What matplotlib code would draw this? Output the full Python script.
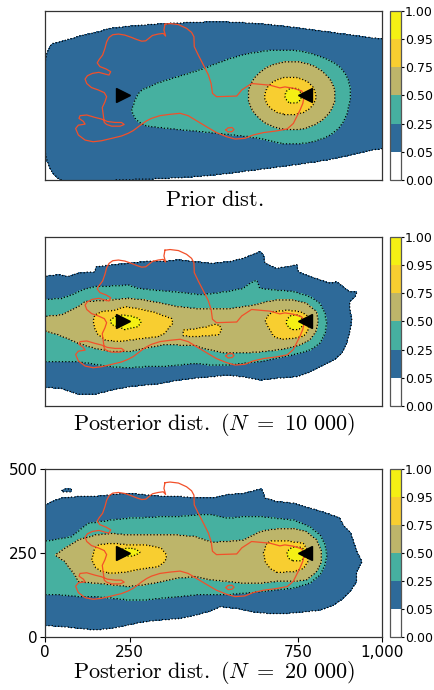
import numpy as np
import matplotlib
matplotlib.use('Agg')
import matplotlib.pyplot as plt
from matplotlib.path import Path

plt.rcParams['mathtext.fontset'] = 'cm'
plt.rcParams['font.family'] = ['DejaVu Sans']

# ---------------- data ----------------
levels = [0.0, 0.05, 0.25, 0.5, 0.75, 0.95, 1.0]
level_colors = ['#ffffff', '#2e6a99', '#46b0a0', '#bdb56a', '#f8ce30', '#f5f014']
level_fill = {0.05: 0.15, 0.25: 0.375, 0.5: 0.625, 0.75: 0.85, 0.95: 0.975}

x_ticks = [0, 250, 750, 1000]
x_ticklabels = ['0', '250', '750', '1,000']
y_ticks = [0, 250, 500]
y_ticklabels = ['0', '250', '500']

titles = [r'$\mathrm{Prior\ dist.}$',
          r'$\mathrm{Posterior\ dist.}\ (N\ =\ 10\ 000)$',
          r'$\mathrm{Posterior\ dist.}\ (N\ =\ 20\ 000)$']

source_xy = (230, 250)
target_xy = (770, 250)

route = [(355, 460), (370, 462), (395, 459), (419, 448), (434, 436), (441, 423), (442, 394),
         (454, 369), (469, 340), (484, 310), (492, 285), (496, 256), (508, 246), (568, 248),
         (583, 266), (612, 285), (667, 280), (696, 272), (711, 275), (736, 271), (761, 263),
         (768, 246), (764, 226), (756, 207), (746, 187), (736, 167), (718, 151), (686, 145),
         (647, 140), (617, 133), (592, 123), (563, 121), (538, 128), (508, 140), (479, 157),
         (449, 175), (424, 190), (400, 197), (370, 194), (340, 190), (315, 182), (301, 175),
         (286, 165), (273, 155), (261, 146), (246, 138), (226, 130), (197, 123), (167, 116),
         (142, 113), (118, 118), (98, 133), (90, 152), (98, 162), (118, 165), (113, 173),
         (100, 182), (103, 190), (123, 192), (147, 185), (167, 180), (184, 173), (207, 170),
         (226, 170), (234, 164), (222, 159), (197, 159), (182, 164), (175, 170), (172, 192),
         (169, 214), (177, 231), (182, 246), (175, 258), (157, 266), (137, 273), (123, 285),
         (118, 298), (125, 308), (140, 315), (159, 318), (177, 313), (189, 310), (194, 320),
         (180, 328), (162, 335), (154, 346), (160, 356), (170, 369), (177, 389), (182, 408),
         (189, 421), (200, 429), (217, 431), (236, 428), (256, 421), (271, 415), (286, 410),
         (298, 411), (308, 419), (318, 427), (335, 431), (350, 433), (357, 425), (352, 443),
         (355, 460)]
lake = [(536, 148), (542, 154), (554, 155), (560, 149), (554, 143), (542, 142), (536, 148)]

# prior distribution contour regions
prior_blue = [(-10, 394), (63, 413), (113, 428), (162, 438), (192, 448), (261, 455), (360, 462),
              (489, 467), (558, 466), (657, 460), (756, 448), (855, 435), (954, 421), (1000, 416),
              (1080, 410), (1080, 95), (1000, 97), (855, 61), (657, 34), (459, 10), (300, 3),
              (150, -2), (-10, -5)]
prior_teal = [(256, 205), (266, 236), (281, 265), (311, 276), (330, 285), (360, 295), (410, 310),
              (459, 325), (508, 344), (558, 362), (607, 374), (657, 382), (706, 384), (756, 382),
              (805, 369), (855, 349), (884, 325), (904, 285), (906, 246), (899, 207), (884, 167),
              (855, 138), (815, 118), (756, 106), (706, 106), (657, 118), (607, 128), (558, 133),
              (508, 138), (459, 143), (410, 148), (360, 153), (320, 157), (291, 162), (271, 177),
              (261, 192)]
prior_ellipses = [(0.5, 731, 249, 129, 101), (0.75, 727, 248, 76, 56), (0.95, 736, 249, 25, 23)]

# posterior N = 10 000
post1_blue = [(-10, 382), (39, 387), (68, 382), (98, 392), (147, 396), (152, 411), (197, 416),
              (246, 421), (296, 426), (345, 426), (395, 431), (444, 426), (494, 421), (548, 426),
              (588, 436), (627, 451), (637, 456), (647, 446), (652, 421), (686, 406), (746, 416),
              (751, 396), (785, 382), (815, 372), (845, 362), (864, 367), (884, 352), (904, 337),
              (924, 337), (919, 323), (904, 308), (904, 283), (909, 254), (904, 224), (894, 185),
              (879, 155), (855, 136), (825, 121), (785, 101), (746, 87), (686, 82), (637, 77),
              (588, 87), (538, 91), (494, 87), (444, 82), (395, 77), (345, 67), (296, 62),
              (246, 57), (197, 47), (147, 35), (98, 35), (48, 52), (-10, 57)]
post1_teal = [(-10, 313), (48, 318), (78, 328), (108, 342), (147, 352), (197, 354), (246, 357),
              (276, 347), (325, 342), (375, 338), (424, 333), (464, 328), (503, 333), (538, 338),
              (588, 347), (607, 362), (627, 372), (637, 347), (686, 342), (736, 338), (785, 323),
              (815, 303), (830, 274), (835, 244), (830, 215), (815, 185), (785, 165), (736, 151),
              (686, 141), (637, 131), (588, 126), (538, 121), (489, 121), (444, 126), (395, 121),
              (345, 116), (296, 116), (246, 113), (197, 116), (147, 123), (98, 131), (-10, 131)]
post1_olive = [(-10, 264), (48, 269), (98, 293), (118, 308), (197, 313), (246, 318), (296, 313),
               (345, 303), (395, 293), (444, 288), (494, 286), (548, 288), (588, 293), (617, 298),
               (657, 308), (686, 313), (736, 313), (775, 303), (805, 278), (810, 254), (805, 224),
               (785, 195), (756, 180), (716, 170), (686, 165), (637, 160), (588, 156), (538, 156),
               (489, 165), (444, 178), (395, 180), (345, 180), (296, 170), (246, 160), (197, 160),
               (147, 170), (98, 185), (39, 210), (-10, 224)]
post1_gold_left = [(147, 269), (167, 279), (207, 283), (236, 293), (276, 288), (316, 279),
                   (345, 269), (375, 259), (380, 244), (365, 229), (355, 215), (335, 205),
                   (296, 200), (256, 195), (217, 190), (177, 195), (157, 210), (147, 229), (142, 249)]
post1_gold_mid = [(408, 224), (439, 227), (479, 234), (499, 241), (518, 239), (523, 224),
                  (513, 210), (479, 207), (439, 205), (410, 207)]
post1_gold_right = [(662, 269), (677, 279), (716, 283), (756, 279), (775, 269), (785, 249),
                    (780, 224), (766, 205), (736, 200), (706, 197), (677, 205), (667, 224),
                    (657, 239), (652, 254)]
post1_yellow_left = [(207, 264), (227, 269), (256, 266), (276, 259), (286, 249), (276, 234),
                     (256, 229), (236, 224), (217, 234), (197, 239), (192, 254)]
post1_yellow_right = (741, 247, 26, 22)

# posterior N = 20 000
post2_blue = [(-10, 384), (19, 404), (48, 414), (98, 419), (147, 419), (197, 424), (246, 428),
              (296, 424), (345, 419), (395, 419), (444, 414), (494, 414), (538, 424), (588, 428),
              (627, 438), (642, 441), (652, 414), (686, 404), (736, 399), (785, 384), (835, 369),
              (874, 354), (884, 334), (904, 314), (914, 285), (924, 255), (939, 225), (924, 195),
              (924, 166), (904, 136), (884, 116), (855, 96), (815, 81), (766, 76), (716, 71),
              (667, 71), (617, 76), (568, 86), (518, 91), (489, 78), (444, 66), (395, 56),
              (345, 52), (296, 47), (246, 37), (197, 27), (147, 22), (98, 27), (48, 32), (-10, 37)]
post2_blue_islet = [(48, 436), (60, 441), (78, 440), (76, 433), (55, 432)]
post2_teal = [(-10, 285), (29, 290), (78, 300), (108, 324), (128, 339), (197, 349), (246, 354),
              (296, 356), (345, 359), (395, 359), (444, 364), (494, 364), (538, 354), (588, 359),
              (637, 359), (686, 354), (736, 349), (785, 329), (815, 304), (830, 275), (835, 245),
              (830, 215), (815, 186), (785, 161), (736, 146), (686, 141), (637, 136), (588, 131),
              (538, 126), (489, 126), (444, 126), (395, 121), (345, 116), (296, 111), (246, 111),
              (197, 116), (147, 121), (98, 121), (48, 126), (-10, 126)]
post2_olive = [(29, 245), (58, 265), (98, 290), (147, 304), (197, 309), (246, 304), (296, 304),
               (345, 304), (395, 304), (444, 300), (494, 283), (538, 285), (588, 290), (637, 314),
               (657, 319), (686, 322), (736, 324), (775, 314), (805, 290), (820, 255), (820, 225),
               (805, 195), (775, 171), (736, 166), (686, 166), (637, 161), (588, 161), (538, 166),
               (489, 171), (444, 180), (395, 176), (345, 166), (296, 156), (246, 151), (197, 156),
               (147, 161), (98, 166), (88, 185), (58, 225)]
post2_gold_left = [(147, 265), (157, 275), (197, 280), (246, 275), (296, 275), (345, 265),
                   (360, 245), (355, 225), (335, 210), (296, 205), (246, 195), (197, 190),
                   (167, 195), (147, 210), (137, 230), (142, 250)]
post2_gold_right = [(657, 280), (672, 287), (716, 287), (766, 280), (780, 255), (780, 225),
                    (766, 205), (736, 195), (686, 193), (667, 205), (652, 225), (647, 250)]
post2_yellow_left = [(225, 262), (250, 266), (270, 262), (283, 253), (270, 245), (250, 240),
                     (225, 243)]
post2_yellow_right = (745, 248, 28, 22)


# ---------------- helpers ----------------
def chaikin(poly, n):
    p = np.asarray(poly, float)
    for _ in range(n):
        q = np.roll(p, -1, axis=0)
        a = 0.75 * p + 0.25 * q
        b = 0.25 * p + 0.75 * q
        p = np.empty((2 * len(p), 2))
        p[0::2] = a
        p[1::2] = b
    return p


def ellipse(cx, cy, rx, ry):
    t = np.linspace(0, 2 * np.pi, 120)
    return np.column_stack([cx + rx * np.cos(t), cy + ry * np.sin(t)])


gx = np.linspace(0, 1000, 501)
gy = np.linspace(0, 500, 251)
GX, GY = np.meshgrid(gx, gy)
PTS = np.column_stack([GX.ravel(), GY.ravel()])


def build_field(regions):
    z = np.zeros(GX.size)
    for lev, poly in regions:
        inside = Path(np.asarray(poly, float)).contains_points(PTS)
        z = np.where(inside, np.maximum(z, level_fill[lev]), z)
    return z.reshape(GX.shape)


prior_regions = [(0.05, chaikin(prior_blue, 3)), (0.25, chaikin(prior_teal, 3))] + \
                [(lev, ellipse(cx, cy, rx, ry)) for lev, cx, cy, rx, ry in prior_ellipses]
post1_regions = [(0.05, post1_blue), (0.25, post1_teal), (0.5, post1_olive),
                 (0.75, post1_gold_left), (0.75, post1_gold_mid), (0.75, post1_gold_right),
                 (0.95, post1_yellow_left), (0.95, ellipse(*post1_yellow_right))]
post2_regions = [(0.05, post2_blue), (0.05, post2_blue_islet), (0.25, post2_teal),
                 (0.5, post2_olive), (0.75, post2_gold_left), (0.75, post2_gold_right),
                 (0.95, post2_yellow_left), (0.95, ellipse(*post2_yellow_right))]

fields = [build_field(prior_regions), build_field(post1_regions), build_field(post2_regions)]

# ---------------- figure ----------------
fig = plt.figure(figsize=(4.34, 6.9), dpi=100)
ax_rects = [[0.1044, 0.7391, 0.7765, 0.2454],
            [0.1044, 0.4116, 0.7765, 0.2454],
            [0.1044, 0.0764, 0.7765, 0.2435]]
label_offsets = [-0.118, -0.112, -0.212]

rx_, ry_ = zip(*route)
lx_, ly_ = zip(*lake)

for i, (rect, Z) in enumerate(zip(ax_rects, fields)):
    ax = fig.add_axes(rect)
    cf = ax.contourf(GX, GY, Z, levels=levels, colors=level_colors)
    ax.contour(GX, GY, Z, levels=levels[1:-1], colors='k', linestyles=':', linewidths=0.9)
    ax.plot(rx_, ry_, color='#f2502a', lw=0.9, zorder=3)
    ax.plot(lx_, ly_, color='#f2502a', lw=0.9, zorder=3)
    ax.plot(*source_xy, marker='>', color='k', ms=10, ls='none', zorder=4)
    ax.plot(*target_xy, marker='<', color='k', ms=10, ls='none', zorder=4)
    ax.set_xlim(0, 1000)
    ax.set_ylim(0, 500)
    for s in ax.spines.values():
        s.set_color('#333333')
        s.set_linewidth(0.9)
    if i == 2:
        ax.set_xticks(x_ticks)
        ax.set_xticklabels(x_ticklabels, fontsize=11)
        ax.set_yticks(y_ticks)
        ax.set_yticklabels(y_ticklabels, fontsize=11)
        ax.tick_params(length=3.5, width=0.8, pad=2)
    else:
        ax.set_xticks([])
        ax.set_yticks([])
    ax.text(0.5, label_offsets[i], titles[i], transform=ax.transAxes,
            ha='center', va='center', fontsize=16)

    cax = fig.add_axes([0.8986, rect[1], 0.0253, rect[3]])
    cb = fig.colorbar(cf, cax=cax, ticks=levels)
    cb.ax.set_yticklabels(['%.2f' % v for v in levels], fontsize=9)
    cb.ax.tick_params(length=2, width=0.8, pad=1)
    cb.outline.set_edgecolor('#555555')
    cb.outline.set_linewidth(0.9)

fig.savefig('out.png', dpi=100)
